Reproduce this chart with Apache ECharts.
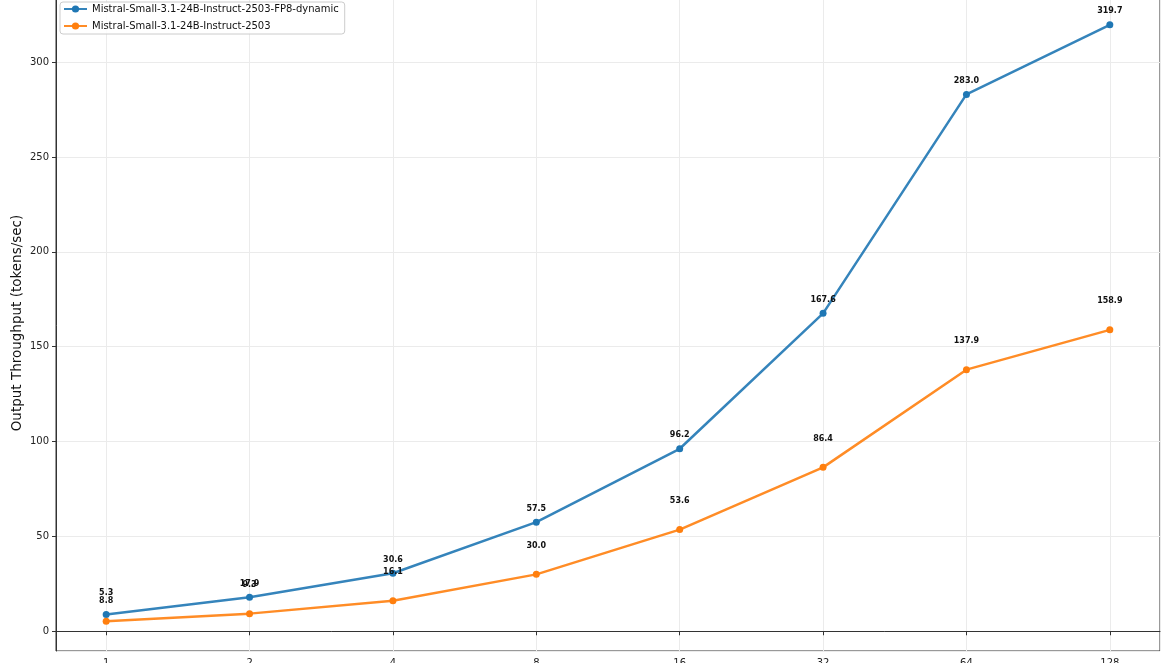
<!DOCTYPE html>
<html>
<head>
<meta charset="utf-8">
<script src="https://cdn.jsdelivr.net/npm/echarts@6/dist/echarts.min.js"></script>
<style>
html,body{margin:0;padding:0;background:#fff;}
#chart{width:1170px;height:663px;}
</style>
</head>
<body>
<div id="chart"></div>
<script>
const concurrency = [1, 2, 4, 8, 16, 32, 64, 128];
const fp8Values = [8.8, 17.9, 30.6, 57.5, 96.2, 167.6, 283.0, 319.7];
const baseValues = [5.3, 9.3, 16.1, 30.0, 53.6, 86.4, 137.9, 158.9];
const seriesNames = ['Mistral-Small-3.1-24B-Instruct-2503-FP8-dynamic', 'Mistral-Small-3.1-24B-Instruct-2503'];
const yTitle = 'Output Throughput (tokens/sec)';

const FONT = 'DejaVu Sans';
const chart = echarts.init(document.getElementById('chart'));

function pairs(vals) { return concurrency.map((c, i) => [c, vals[i]]); }

function mkSeries(name, vals, color, dist) {
  return {
    name: name,
    type: 'line',
    data: pairs(vals),
    symbol: 'circle',
    symbolSize: 7,
    lineStyle: { width: 2.5, color: color, opacity: 0.9 },
    itemStyle: { color: color },
    label: {
      show: true,
      position: 'top',
      distance: dist,
      formatter: p => p.value[1].toFixed(1),
      fontFamily: FONT,
      fontSize: 8,
      fontWeight: 'bold',
      color: '#111'
    },
    emphasis: { disabled: true },
    animation: false
  };
}

chart.setOption({
  animation: false,
  backgroundColor: '#fff',
  textStyle: { fontFamily: FONT },
  grid: {
    left: 56, right: 10, top: -5, bottom: 12,
    outerBoundsMode: 'none',
    containLabel: false,
    show: true, borderColor: '#333', borderWidth: 1, backgroundColor: 'transparent'
  },
  legend: {
    orient: 'vertical',
    left: 60, top: 2,
    padding: [2, 6, 3, 3],
    itemGap: 7,
    itemWidth: 23,
    itemHeight: 9,
    backgroundColor: 'rgba(255,255,255,0.85)',
    borderColor: '#ccc', borderWidth: 1, borderRadius: 3,
    textStyle: { fontFamily: FONT, fontSize: 10, color: '#111' },
    data: seriesNames
  },
  xAxis: {
    type: 'log',
    logBase: 2,
    min: Math.pow(2, -0.35),
    max: Math.pow(2, 7.35),
    splitNumber: 7,
    axisLine: { show: true, lineStyle: { color: '#333' } },
    axisTick: { show: true, length: 4, lineStyle: { color: '#333' } },
    axisLabel: {
      fontFamily: FONT, fontSize: 10, color: '#222', margin: 7,
      showMinLabel: false, showMaxLabel: false,
      formatter: v => String(Math.round(v))
    },
    splitLine: { show: true, lineStyle: { color: '#ebebeb', width: 1 } }
  },
  yAxis: {
    type: 'value',
    min: -10.4,
    max: 335.4,
    name: yTitle,
    nameLocation: 'middle',
    nameGap: 32,
    nameMoveOverlap: false,
    nameTextStyle: { fontFamily: FONT, fontSize: 13.5, color: '#111' },
    axisLine: { show: true, lineStyle: { color: '#333' } },
    axisTick: { show: true, length: 4, lineStyle: { color: '#333' } },
    axisLabel: {
      fontFamily: FONT, fontSize: 10, color: '#222', margin: 7,
      showMinLabel: false, showMaxLabel: false
    },
    splitLine: { show: true, lineStyle: { color: '#ebebeb', width: 1 } }
  },
  series: [
    mkSeries(seriesNames[0], fp8Values, '#1f77b4', 6),
    mkSeries(seriesNames[1], baseValues, '#ff7f0e', 21)
  ]
});
</script>
</body>
</html>
